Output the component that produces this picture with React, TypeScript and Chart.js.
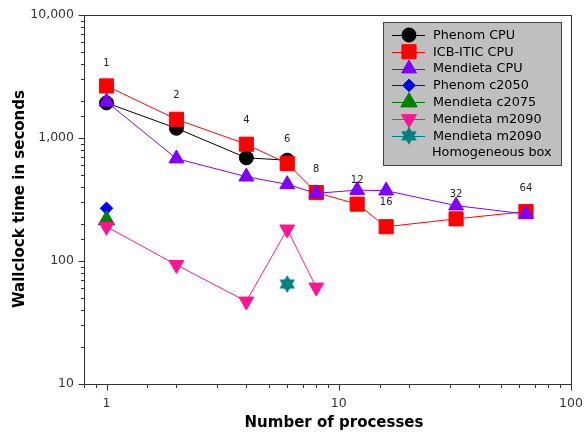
import React, { useEffect, useRef } from 'react';
import { Chart, registerables } from 'chart.js';
Chart.register(...registerables);

const phenomCpuX = [1, 2, 4, 6];
const phenomCpuY = [1930, 1200, 690, 660];
const icbCpuX = [1, 2, 4, 6, 8, 12, 16, 32, 64];
const icbCpuY = [2650, 1420, 890, 620, 360, 290, 190, 220, 252];
const mendCpuX = [1, 2, 4, 6, 8, 12, 16, 32, 64];
const mendCpuY = [1970, 680, 485, 420, 355, 377, 373, 282, 241];
const phenomC2050X = [1];
const phenomC2050Y = [268];
const mendC2075X = [1];
const mendC2075Y = [215];
const mendM2090X = [1, 2, 4, 6, 8];
const mendM2090Y = [190, 93, 47, 181, 61];
const mendM2090bX = [6];
const mendM2090bY = [65];

const annLabels = ['1', '2', '4', '6', '8', '12', '16', '32', '64'];
const annX = [1, 2, 4, 6, 8, 12, 16, 32, 64];
const annY = [4072, 2237, 1383, 976, 560, 455, 298, 349, 392];

const legendLabels = [
  'Phenom CPU',
  'ICB-ITIC CPU',
  'Mendieta CPU',
  'Phenom c2050',
  'Mendieta c2075',
  'Mendieta m2090',
  'Mendieta m2090',
];
const legendExtra = 'Homogeneous box';

const xTitle = 'Number of processes';
const yTitle = 'Wallclock time in seconds';

const FONT = '"DejaVu Sans", sans-serif';
const AXIS_COLOR = '#333333';

function makeHexagram(color: string, R: number) {
  const size = Math.ceil(R * 2 + 2);
  const c = document.createElement('canvas');
  c.width = size;
  c.height = size;
  const ctx = c.getContext('2d')!;
  const cx = size / 2;
  const cy = size / 2;
  ctx.fillStyle = color;
  for (const start of [-90, 90]) {
    ctx.beginPath();
    for (let k = 0; k < 3; k++) {
      const a = ((start + k * 120) * Math.PI) / 180;
      const px = cx + R * Math.cos(a);
      const py = cy + R * Math.sin(a);
      if (k === 0) ctx.moveTo(px, py);
      else ctx.lineTo(px, py);
    }
    ctx.closePath();
    ctx.fill();
  }
  return c;
}

function isPow10(v: number) {
  const l = Math.log10(v);
  return Math.abs(l - Math.round(l)) < 1e-9;
}

function drawMarker(ctx: CanvasRenderingContext2D, style: any, x: number, y: number, r: number, color: string, rot: number) {
  ctx.save();
  ctx.fillStyle = color;
  ctx.strokeStyle = color;
  ctx.lineWidth = 1;
  if (typeof style !== 'string') {
    ctx.drawImage(style, x - style.width / 2, y - style.height / 2);
    ctx.restore();
    return;
  }
  ctx.beginPath();
  if (style === 'circle') {
    ctx.arc(x, y, r, 0, Math.PI * 2);
  } else if (style === 'rect') {
    const s = Math.SQRT1_2 * r;
    ctx.rect(x - s, y - s, 2 * s, 2 * s);
  } else if (style === 'rectRot') {
    ctx.moveTo(x - r, y);
    ctx.lineTo(x, y - r);
    ctx.lineTo(x + r, y);
    ctx.lineTo(x, y + r);
    ctx.closePath();
  } else if (style === 'triangle') {
    let rad = (rot * Math.PI) / 180;
    ctx.moveTo(x + Math.sin(rad) * r, y - Math.cos(rad) * r);
    rad += (2 * Math.PI) / 3;
    ctx.lineTo(x + Math.sin(rad) * r, y - Math.cos(rad) * r);
    rad += (2 * Math.PI) / 3;
    ctx.lineTo(x + Math.sin(rad) * r, y - Math.cos(rad) * r);
    ctx.closePath();
  }
  ctx.fill();
  ctx.stroke();
  ctx.restore();
}

export default function App() {
  const ref = useRef<HTMLCanvasElement | null>(null);

  useEffect(() => {
    const canvas = ref.current;
    if (!canvas) return;
    const star = makeHexagram('#008080', 9);

    const series = [
      { label: legendLabels[0], xs: phenomCpuX, ys: phenomCpuY, color: '#000000', style: 'circle', r: 7, rot: 0 },
      { label: legendLabels[1], xs: icbCpuX, ys: icbCpuY, color: '#ff0000', style: 'rect', r: 10, rot: 0 },
      { label: legendLabels[2], xs: mendCpuX, ys: mendCpuY, color: '#8000ff', style: 'triangle', r: 8.6, rot: 0 },
      { label: legendLabels[3], xs: phenomC2050X, ys: phenomC2050Y, color: '#0000ff', style: 'rectRot', r: 6.3, rot: 0 },
      { label: legendLabels[4], xs: mendC2075X, ys: mendC2075Y, color: '#008000', style: 'triangle', r: 9.5, rot: 0 },
      { label: legendLabels[5], xs: mendM2090X, ys: mendM2090Y, color: '#ff1493', style: 'triangle', r: 8.6, rot: 180 },
      { label: legendLabels[6], xs: mendM2090bX, ys: mendM2090bY, color: '#008080', style: star as any, r: 9, rot: 0 },
    ];
    const n = series.length;

    const datasets = series.map((s, i) => ({
      label: s.label,
      data: s.xs.map((x, k) => ({ x, y: s.ys[k] })),
      borderColor: s.color,
      backgroundColor: s.color,
      borderWidth: 1,
      pointStyle: s.style,
      pointRadius: s.r,
      pointBorderWidth: 1,
      pointBorderColor: s.color,
      pointBackgroundColor: s.color,
      pointRotation: s.rot,
      fill: false,
      tension: 0,
      order: n - i,
    }));

    const decorPlugin = {
      id: 'decor',
      beforeDatasetsDraw(chart: any) {
        const ctx = chart.ctx as CanvasRenderingContext2D;
        const a = chart.chartArea;
        ctx.save();
        ctx.strokeStyle = AXIS_COLOR;
        ctx.lineWidth = 1;
        const L = Math.round(a.left) + 0.5;
        const R = Math.round(a.right) + 0.5;
        const T = Math.round(a.top) + 0.5;
        const B = Math.round(a.bottom) + 0.5;
        ctx.strokeRect(L, T, R - L, B - T);
        // ticks
        const xs = chart.scales.x;
        const ys = chart.scales.y;
        ctx.beginPath();
        for (const t of xs.ticks) {
          if (t.value < xs.min - 1e-9 || t.value > xs.max + 1e-9) continue;
          const px = Math.round(xs.getPixelForValue(t.value)) + 0.5;
          const len = isPow10(t.value) ? 6 : 3.5;
          ctx.moveTo(px, B);
          ctx.lineTo(px, B + len);
        }
        for (const t of ys.ticks) {
          if (t.value < ys.min - 1e-9 || t.value > ys.max + 1e-9) continue;
          const py = Math.round(ys.getPixelForValue(t.value)) + 0.5;
          const len = isPow10(t.value) ? 6 : 3.5;
          ctx.moveTo(L, py);
          ctx.lineTo(L - len, py);
        }
        ctx.stroke();
        // axis titles
        ctx.fillStyle = '#000000';
        ctx.font = 'bold 15px ' + FONT;
        ctx.textAlign = 'center';
        ctx.textBaseline = 'middle';
        ctx.fillText(xTitle, 334, 423);
        ctx.save();
        ctx.translate(20, 199);
        ctx.rotate(-Math.PI / 2);
        ctx.fillText(yTitle, 0, 0);
        ctx.restore();
        // annotations
        ctx.fillStyle = '#222222';
        ctx.font = '10px ' + FONT;
        for (let i = 0; i < annLabels.length; i++) {
          ctx.fillText(annLabels[i], xs.getPixelForValue(annX[i]), ys.getPixelForValue(annY[i]));
        }
        ctx.restore();
      },
      afterDraw(chart: any) {
        const ctx = chart.ctx as CanvasRenderingContext2D;
        ctx.save();
        const bx = 383.5, by = 22.5, bw = 178, bh = 143;
        ctx.fillStyle = '#bfbfbf';
        ctx.fillRect(bx, by, bw, bh);
        ctx.strokeStyle = '#404040';
        ctx.lineWidth = 1;
        ctx.strokeRect(bx, by, bw, bh);
        const rowY0 = 35;
        const rowH = 16.8;
        ctx.font = '12.8px ' + FONT;
        ctx.textAlign = 'left';
        ctx.textBaseline = 'middle';
        series.forEach((s, i) => {
          const y = rowY0 + i * rowH;
          ctx.strokeStyle = s.color;
          ctx.lineWidth = 1;
          ctx.beginPath();
          ctx.moveTo(392, Math.round(y) + 0.5);
          ctx.lineTo(425, Math.round(y) + 0.5);
          ctx.stroke();
          drawMarker(ctx, s.style, 409, y, s.r, s.color, s.rot);
          ctx.fillStyle = '#000000';
          ctx.fillText(s.label, 433, y + 0.5);
        });
        ctx.fillStyle = '#000000';
        ctx.fillText(legendExtra, 432, rowY0 + 7 * rowH + 0.5);
        ctx.restore();
      },
    };

    const tickFont = { family: FONT, size: 12.5 };
    const chart = new Chart(canvas, {
      type: 'line',
      data: { datasets: datasets as any },
      options: {
        animation: false,
        responsive: false,
        maintainAspectRatio: false,
        layout: { padding: { top: 15, right: 14, left: 0, bottom: 0 } },
        plugins: { legend: { display: false }, tooltip: { enabled: false } },
        scales: {
          x: {
            type: 'logarithmic',
            min: 0.8,
            max: 100,
            afterFit: (s: any) => { s.height = 51; s.paddingLeft = 0; s.paddingRight = 0; },
            grid: { display: false, drawTicks: false },
            border: { display: false },
            ticks: {
              autoSkip: false,
              maxRotation: 0,
              padding: 12,
              color: AXIS_COLOR,
              font: tickFont,
              callback: (v: any) => (isPow10(Number(v)) ? Number(v).toLocaleString('en-US') : ''),
            },
          },
          y: {
            type: 'logarithmic',
            min: 10,
            max: 10000,
            afterFit: (s: any) => { s.width = 84; s.paddingTop = 0; s.paddingBottom = 0; },
            grid: { display: false, drawTicks: false },
            border: { display: false },
            ticks: {
              autoSkip: false,
              padding: 10,
              color: AXIS_COLOR,
              font: tickFont,
              callback: (v: any) => (isPow10(Number(v)) ? Number(v).toLocaleString('en-US') : ''),
            },
          },
        },
      } as any,
      plugins: [decorPlugin as any],
    });
    return () => chart.destroy();
  }, []);

  return (
    <div style={{ position: 'fixed', left: 0, top: 0, width: 585, height: 435, background: '#ffffff' }}>
      <canvas ref={ref} width={585} height={435} style={{ display: 'block', width: 585, height: 435 }} />
    </div>
  );
}
